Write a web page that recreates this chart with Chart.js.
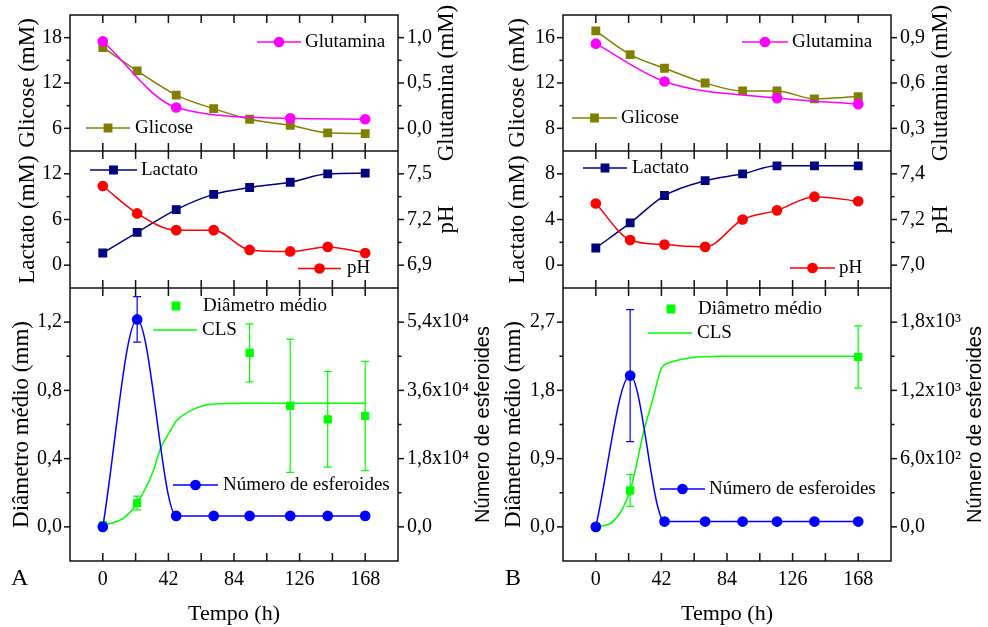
<!DOCTYPE html>
<html>
<head>
<meta charset="utf-8">
<script src="https://cdn.jsdelivr.net/npm/chart.js@4.4.1/dist/chart.umd.min.js"></script>
<style>
  body { margin: 0; background: #fff; }
  .wrap { display: flex; width: 988px; height: 627px; }
  canvas { display: block; }
</style>
</head>
<body>
<div class="wrap">
  <canvas id="chartA" width="494" height="627"></canvas>
  <canvas id="chartB" width="494" height="627"></canvas>
</div>
<script>
// eixo do tempo (h)
const tempoTicks = [0, 42, 84, 126, 168];

// ---- painel A ----
const tempoA = [0, 22, 47, 71, 94, 120, 144, 168];
const glicoseA = [16.7, 13.6, 10.4, 8.6, 7.2, 6.4, 5.4, 5.3];
const tempoGlnA = [0, 47, 120, 168];
const glutaminaA = [0.96, 0.23, 0.11, 0.10];
const lactatoA = [1.6, 4.3, 7.3, 9.3, 10.2, 10.9, 12.0, 12.1];
const phA = [7.42, 7.24, 7.13, 7.13, 7.00, 6.99, 7.02, 6.98];
const esferoidesA = [0, 54700, 2900, 2900, 2900, 2900, 2900, 2900];
const esferoidesErrA = [0, 6000, 0, 0, 0, 0, 0, 0];
const tempoDiamA = [0, 22, 94, 120, 144, 168];
const diametroA = [0.01, 0.14, 1.02, 0.71, 0.63, 0.65];
const diametroErrA = [0, 0.04, 0.17, 0.39, 0.28, 0.32];
const tempoClsA = [0, 13, 22, 32, 37, 43, 47, 56, 64, 71, 94, 120, 144, 168];
const clsA = [0.01, 0.05, 0.14, 0.32, 0.46, 0.56, 0.62, 0.68, 0.71, 0.72, 0.725, 0.725, 0.725, 0.725];

const glicoseTicksA = [6, 12, 18];
const glutaminaTicksA = [0, 0.5, 1.0];
const lactatoTicksA = [0, 6, 12];
const phTicksA = [6.9, 7.2, 7.5];
const diametroTicksA = [0, 0.4, 0.8, 1.2];
const esferoidesTicksA = [0, 18000, 36000, 54000];

// ---- painel B ----
const tempoB = [0, 22, 44, 70, 94, 116, 140, 168];
const glicoseB = [16.6, 14.5, 13.3, 12.0, 11.3, 11.3, 10.6, 10.8];
const tempoGlnB = [0, 44, 116, 168];
const glutaminaB = [0.86, 0.61, 0.50, 0.46];
const lactatoB = [1.5, 3.7, 6.1, 7.4, 8.0, 8.7, 8.7, 8.7];
const phB = [7.27, 7.11, 7.09, 7.08, 7.20, 7.24, 7.30, 7.28];
const esferoidesB = [0, 1330, 47, 47, 47, 47, 47, 47];
const esferoidesErrB = [0, 580, 0, 0, 0, 0, 0, 0];
const tempoDiamB = [0, 22, 168];
const diametroB = [0.0, 0.48, 2.24];
const diametroErrB = [0, 0.21, 0.41];
const tempoClsB = [0, 11, 22, 31, 37, 42, 48, 61, 80, 120, 168];
const clsB = [0, 0.07, 0.48, 1.28, 1.72, 2.09, 2.17, 2.23, 2.25, 2.25, 2.25];

const glicoseTicksB = [8, 12, 16];
const glutaminaTicksB = [0.3, 0.6, 0.9];
const lactatoTicksB = [0, 4, 8];
const phTicksB = [7.0, 7.2, 7.4];
const diametroTicksB = [0, 0.9, 1.8, 2.7];
const esferoidesTicksB = [0, 600, 1200, 1800];

const SERIF = '"Liberation Serif", "Times New Roman", serif';
const SANS = '"Liberation Sans", Arial, sans-serif';
const OLIVE = '#808000', MAGENTA = '#ff00ff', NAVY = '#000080', RED = '#ff0000', GREEN = '#00ff00', BLUE = '#0000ff';

const pts = (xs, ys) => xs.map((x, i) => ({ x: x, y: ys[i] }));
const dec = n => v => v.toFixed(n).replace('.', ',');
const SUP = { 2: '\u00b2', 3: '\u00b3', 4: '\u2074' };
const sci = v => {
  if (v === 0) return '0,0';
  const e = Math.floor(Math.log10(v) + 1e-9);
  return (v / Math.pow(10, e)).toFixed(1).replace('.', ',') + 'x10' + SUP[e];
};
// sem margem extra para rótulos nas pontas
const noPad = s => { s.paddingTop = 0; s.paddingBottom = 0; s.paddingLeft = 0; s.paddingRight = 0; };

// moldura, separadores e marcas de escala
const moldura = {
  id: 'moldura',
  afterDatasetsDraw(chart) {
    const ctx = chart.ctx, a = chart.chartArea, xs = chart.scales.x;
    const seg = (x1, y1, x2, y2) => { ctx.beginPath(); ctx.moveTo(x1, y1); ctx.lineTo(x2, y2); ctx.stroke(); };
    ctx.save();
    ctx.strokeStyle = '#111';
    ctx.lineWidth = 1.5;
    ctx.strokeRect(a.left, a.top, a.right - a.left, a.bottom - a.top);

    const xVals = [];
    xs.ticks.forEach((t, i, arr) => {
      xVals.push(t.value);
      if (i < arr.length - 1) xVals.push((t.value + arr[i + 1].value) / 2);
    });

    const yMarks = (s, left) => {
      const v = s.ticks.map(t => t.value);
      const step = v[1] - v[0];
      const minors = [v[0] - step / 2].concat(v.map(x => x + step / 2));
      const edge = left ? a.left : a.right, dir = left ? -1 : 1;
      v.forEach(val => { const py = s.getPixelForValue(val); seg(edge, py, edge + dir * 6, py); });
      minors.filter(m => m > s.min + 1e-6 && m < s.max - 1e-6).forEach(m => {
        const py = s.getPixelForValue(m); seg(edge, py, edge + dir * 3.5, py);
      });
    };

    ['yGlic', 'yLact', 'yDiam'].forEach(id => {
      const s = chart.scales[id];
      if (id !== 'yGlic') seg(a.left, s.top, a.right, s.top);
      xVals.forEach(v => {
        const px = xs.getPixelForValue(v);
        seg(px, s.top, px, s.top + 8);
        seg(px, s.bottom, px, s.bottom - 8);
      });
      yMarks(s, true);
    });
    ['yGlut', 'yPh', 'yNum'].forEach(id => yMarks(chart.scales[id], false));
    ctx.restore();
  }
};

// barras de erro
const barrasErro = {
  id: 'barrasErro',
  beforeDatasetsDraw(chart) {
    const ctx = chart.ctx, xs = chart.scales.x;
    chart.data.datasets.forEach(ds => {
      if (!ds.errors) return;
      const ys = chart.scales[ds.yAxisID];
      ctx.save();
      ctx.strokeStyle = ds.borderColor;
      ctx.lineWidth = 1.2;
      ds.data.forEach((p, i) => {
        const e = ds.errors[i];
        if (!e) return;
        const px = xs.getPixelForValue(p.x);
        const y1 = ys.getPixelForValue(p.y - e), y2 = ys.getPixelForValue(p.y + e);
        ctx.beginPath();
        ctx.moveTo(px, y1); ctx.lineTo(px, y2);
        ctx.moveTo(px - 4, y1); ctx.lineTo(px + 4, y1);
        ctx.moveTo(px - 4, y2); ctx.lineTo(px + 4, y2);
        ctx.stroke();
      });
      ctx.restore();
    });
  }
};

// títulos verticais dos eixos y (lidos de baixo para cima)
const titulos = {
  id: 'titulos',
  afterDraw(chart, args, opts) {
    const ctx = chart.ctx;
    opts.items.forEach(t => {
      const s = chart.scales[t.scale];
      ctx.save();
      ctx.translate(t.x, (s.top + s.bottom) / 2);
      ctx.rotate(-Math.PI / 2);
      ctx.font = t.font || `23px ${SERIF}`;
      ctx.fillStyle = '#000';
      ctx.textAlign = 'center';
      ctx.textBaseline = 'middle';
      ctx.fillText(t.text, 0, 0);
      ctx.restore();
    });
  }
};

// legendas internas e letra do painel
const legenda = {
  id: 'legenda',
  afterDraw(chart, args, opts) {
    const ctx = chart.ctx;
    ctx.save();
    opts.items.forEach(it => {
      const ds = chart.data.datasets.find(d => d.label === it.label);
      ctx.strokeStyle = ds.borderColor;
      ctx.fillStyle = ds.backgroundColor || ds.borderColor;
      ctx.lineWidth = 1.5;
      if (it.x2 > it.x1) {
        ctx.beginPath(); ctx.moveTo(it.x1, it.y); ctx.lineTo(it.x2, it.y); ctx.stroke();
      }
      if (ds.pointRadius > 0) {
        Chart.helpers.drawPoint(ctx, { pointStyle: ds.pointStyle, radius: ds.pointRadius, borderWidth: 1 }, (it.x1 + it.x2) / 2, it.y);
      }
      ctx.fillStyle = '#000';
      ctx.font = `19px ${SERIF}`;
      ctx.textBaseline = 'middle';
      ctx.textAlign = 'left';
      ctx.fillText(it.label, it.tx, it.y);
    });
    ctx.font = `24px ${SERIF}`;
    ctx.textBaseline = 'middle';
    ctx.fillText(opts.letter, 11, 579);
    ctx.restore();
  }
};

function painel(id, d, lay) {
  const yAxis = (pos, w, lim, ticks, fmt) => ({
    type: 'linear', position: pos, stack: 'painel', stackWeight: w,
    min: lim[0], max: lim[1], bounds: 'data',
    afterBuildTicks: s => { s.ticks = ticks.map(v => ({ value: v })); },
    afterFit: s => { s.width = pos === 'left' ? lay.left : lay.right; noPad(s); },
    grid: { display: false, drawTicks: false },
    border: { display: false },
    ticks: { color: '#000', font: { family: SERIF, size: 20 }, padding: pos === 'left' ? 8 : 9, autoSkip: false, callback: fmt }
  });

  return new Chart(document.getElementById(id), {
    type: 'line',
    data: {
      datasets: [
        { label: 'Número de esferoides', yAxisID: 'yNum', data: pts(d.tempo, d.esferoides), errors: d.esferoidesErr,
          borderColor: BLUE, backgroundColor: BLUE, borderWidth: 1.5, pointStyle: 'circle', pointRadius: 4.6, cubicInterpolationMode: 'monotone' },
        { label: 'Diâmetro médio', yAxisID: 'yDiam', data: pts(d.tempoDiam, d.diametro), errors: d.diametroErr,
          borderColor: GREEN, backgroundColor: GREEN, showLine: false, pointStyle: 'rect', pointRadius: 5.2 },
        { label: 'CLS', yAxisID: 'yDiam', data: pts(d.tempoCls, d.cls),
          borderColor: GREEN, backgroundColor: GREEN, borderWidth: 1.5, pointRadius: 0, cubicInterpolationMode: 'monotone' },
        { label: 'Glutamina', yAxisID: 'yGlut', data: pts(d.tempoGln, d.glutamina),
          borderColor: MAGENTA, backgroundColor: MAGENTA, borderWidth: 1.5, pointStyle: 'circle', pointRadius: 4.6, cubicInterpolationMode: 'monotone' },
        { label: 'Glicose', yAxisID: 'yGlic', data: pts(d.tempo, d.glicose),
          borderColor: OLIVE, backgroundColor: OLIVE, borderWidth: 1.5, pointStyle: 'rect', pointRadius: 5.2, cubicInterpolationMode: 'monotone' },
        { label: 'pH', yAxisID: 'yPh', data: pts(d.tempo, d.ph),
          borderColor: RED, backgroundColor: RED, borderWidth: 1.5, pointStyle: 'circle', pointRadius: 4.6, cubicInterpolationMode: 'monotone' },
        { label: 'Lactato', yAxisID: 'yLact', data: pts(d.tempo, d.lactato),
          borderColor: NAVY, backgroundColor: NAVY, borderWidth: 1.5, pointStyle: 'rect', pointRadius: 5.2, cubicInterpolationMode: 'monotone' }
      ]
    },
    options: {
      responsive: false,
      animation: false,
      events: [],
      layout: { padding: { top: 15, left: 0, right: 0, bottom: 0 } },
      plugins: {
        legend: { display: false },
        tooltip: { enabled: false },
        titulos: { items: lay.titulos },
        legenda: { items: lay.legenda, letter: lay.letra }
      },
      scales: {
        x: {
          type: 'linear', position: 'bottom', min: -21, max: 189, bounds: 'data',
          afterBuildTicks: s => { s.ticks = tempoTicks.map(v => ({ value: v })); },
          afterFit: s => { s.height = 66; noPad(s); },
          grid: { display: false, drawTicks: false },
          border: { display: false },
          ticks: { color: '#000', font: { family: SERIF, size: 20 }, padding: 7, autoSkip: false, maxRotation: 0 },
          title: { display: true, text: 'Tempo (h)', color: '#000', font: { family: SERIF, size: 22 }, padding: { top: 0, bottom: 0 } }
        },
        // à esquerda: definidos de baixo para cima
        yDiam: yAxis('left', 273, lay.diam, d.diametroTicks, dec(1)),
        yLact: yAxis('left', 137, lay.lact, d.lactatoTicks, dec(0)),
        yGlic: yAxis('left', 136, lay.glic, d.glicoseTicks, dec(0)),
        // à direita: definidos de cima para baixo
        yGlut: yAxis('right', 136, lay.glut, d.glutaminaTicks, dec(1)),
        yPh: yAxis('right', 137, lay.ph, d.phTicks, dec(1)),
        yNum: yAxis('right', 273, lay.num, d.esferoidesTicks, sci)
      }
    },
    plugins: [barrasErro, moldura, titulos, legenda]
  });
}

painel('chartA', {
  tempo: tempoA, glicose: glicoseA, tempoGln: tempoGlnA, glutamina: glutaminaA,
  lactato: lactatoA, ph: phA, esferoides: esferoidesA, esferoidesErr: esferoidesErrA,
  tempoDiam: tempoDiamA, diametro: diametroA, diametroErr: diametroErrA, tempoCls: tempoClsA, cls: clsA,
  glicoseTicks: glicoseTicksA, glutaminaTicks: glutaminaTicksA, lactatoTicks: lactatoTicksA,
  phTicks: phTicksA, diametroTicks: diametroTicksA, esferoidesTicks: esferoidesTicksA
}, {
  left: 70, right: 96, letra: 'A',
  glic: [3, 21], glut: [-0.25, 1.25], lact: [-3, 15], ph: [6.75, 7.65], diam: [-0.2, 1.4], num: [-9000, 63000],
  titulos: [
    { scale: 'yGlic', text: 'Glicose (mM)', x: 28 },
    { scale: 'yLact', text: 'Lactato (mM)', x: 28 },
    { scale: 'yDiam', text: 'Diâmetro médio (mm)', x: 22 },
    { scale: 'yGlut', text: 'Glutamina (mM)', x: 447 },
    { scale: 'yPh', text: 'pH', x: 447 },
    { scale: 'yNum', text: 'Número de esferoides', x: 483, font: `20px ${SANS}` }
  ],
  legenda: [
    { label: 'Glutamina', x1: 257, x2: 301, y: 42, tx: 305 },
    { label: 'Glicose', x1: 86, x2: 130, y: 128, tx: 135 },
    { label: 'Lactato', x1: 90, x2: 137, y: 170, tx: 141 },
    { label: 'pH', x1: 298, x2: 341, y: 268.5, tx: 347 },
    { label: 'Diâmetro médio', x1: 176, x2: 176, y: 306, tx: 203 },
    { label: 'CLS', x1: 153, x2: 197, y: 330, tx: 202 },
    { label: 'Número de esferoides', x1: 173, x2: 218, y: 485, tx: 223 }
  ]
});

painel('chartB', {
  tempo: tempoB, glicose: glicoseB, tempoGln: tempoGlnB, glutamina: glutaminaB,
  lactato: lactatoB, ph: phB, esferoides: esferoidesB, esferoidesErr: esferoidesErrB,
  tempoDiam: tempoDiamB, diametro: diametroB, diametroErr: diametroErrB, tempoCls: tempoClsB, cls: clsB,
  glicoseTicks: glicoseTicksB, glutaminaTicks: glutaminaTicksB, lactatoTicks: lactatoTicksB,
  phTicks: phTicksB, diametroTicks: diametroTicksB, esferoidesTicks: esferoidesTicksB
}, {
  left: 69, right: 97, letra: 'B',
  glic: [6, 18], glut: [0.15, 1.05], lact: [-2, 10], ph: [6.9, 7.5], diam: [-0.45, 3.15], num: [-300, 2100],
  titulos: [
    { scale: 'yGlic', text: 'Glicose (mM)', x: 24 },
    { scale: 'yLact', text: 'Lactato (mM)', x: 24 },
    { scale: 'yDiam', text: 'Diâmetro médio (mm)', x: 20 },
    { scale: 'yGlut', text: 'Glutamina (mM)', x: 447 },
    { scale: 'yPh', text: 'pH', x: 447 },
    { scale: 'yNum', text: 'Número de esferoides', x: 481, font: `20px ${SANS}` }
  ],
  legenda: [
    { label: 'Glutamina', x1: 248, x2: 294, y: 42, tx: 298 },
    { label: 'Glicose', x1: 78, x2: 123, y: 118, tx: 127 },
    { label: 'Lactato', x1: 89, x2: 133, y: 168, tx: 138 },
    { label: 'pH', x1: 296, x2: 341, y: 268, tx: 345 },
    { label: 'Diâmetro médio', x1: 177, x2: 177, y: 309, tx: 204 },
    { label: 'CLS', x1: 154, x2: 198, y: 333, tx: 203 },
    { label: 'Número de esferoides', x1: 166, x2: 211, y: 489, tx: 215 }
  ]
});
</script>
</body>
</html>
